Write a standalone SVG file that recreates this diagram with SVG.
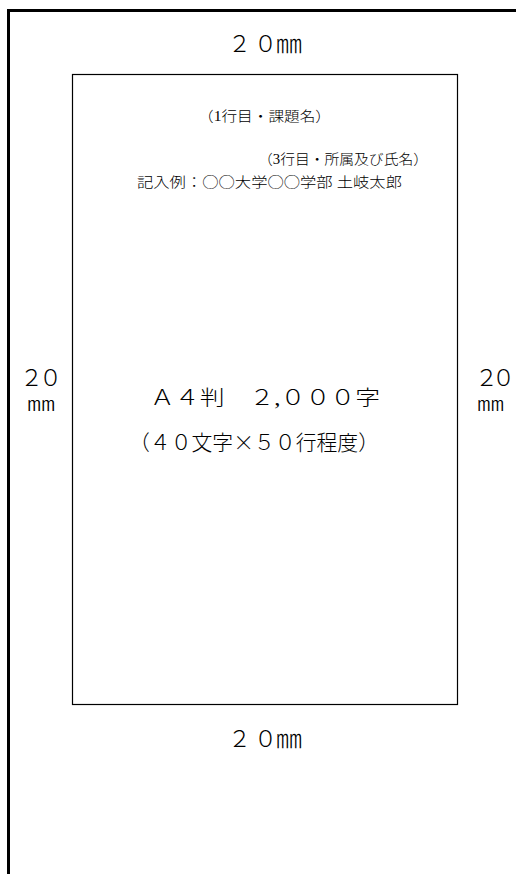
<svg xmlns="http://www.w3.org/2000/svg" width="516" height="874" viewBox="0 0 516 874">
  <style>
    text { font-family: "Liberation Serif", "Noto Sans CJK JP", serif; fill: #000; font-weight: 300; }
    .cjk { font-family: "Noto Sans CJK JP", sans-serif; }
    .lbl { font-size: 23px; }
    .mm { font-size: 26px; }
    .mms { font-size: 20px; }
    .big { font-size: 21px; }
    .small { font-size: 14px; }
    .frame { fill: none; stroke: #000; }
  </style>
  <rect width="516" height="874" fill="#fff"/>
  <g id="outer-frame">
    <path class="frame" d="M8.5,874 V10.5 H516" stroke-width="3"/>
  </g>
  <g id="page">
    <rect class="frame" x="72.5" y="74.5" width="385" height="630" stroke-width="1.2"/>
  </g>
  <g id="margin-top">
    <text class="lbl" y="52"><tspan x="228">２</tspan><tspan x="254">０</tspan><tspan x="276" dy="1" class="mm">㎜</tspan></text>
  </g>
  <g id="margin-bottom">
    <text class="lbl" y="747"><tspan x="228">２</tspan><tspan x="254">０</tspan><tspan x="276" dy="1" class="mm">㎜</tspan></text>
  </g>
  <g id="margin-left">
    <text class="lbl" x="41" y="386" text-anchor="middle" textLength="42">２０</text>
    <text class="mms" x="27" y="411" textLength="28" lengthAdjust="spacingAndGlyphs">㎜</text>
  </g>
  <g id="margin-right">
    <text class="lbl" x="495" y="386" text-anchor="middle" textLength="40">２０</text>
    <text class="mms" x="477" y="411" textLength="27" lengthAdjust="spacingAndGlyphs">㎜</text>
  </g>
  <g id="header-lines">
    <text class="small" x="198" y="121" textLength="133" lengthAdjust="spacingAndGlyphs">（1行目・課題名）</text>
    <text class="small" x="258" y="164" textLength="170" lengthAdjust="spacingAndGlyphs">（3行目・所属及び氏名）</text>
    <text class="small" x="137" y="187" textLength="265" lengthAdjust="spacingAndGlyphs">記入例：<tspan class="cjk">○○</tspan>大学<tspan class="cjk">○○</tspan>学部 土岐太郎</text>
  </g>
  <g id="body-text">
    <text class="big" x="150" y="405" textLength="230" lengthAdjust="spacingAndGlyphs">Ａ４判　２,０００字</text>
    <text class="big" x="129" y="450" textLength="250" lengthAdjust="spacingAndGlyphs">（４０文字<tspan class="cjk">×</tspan>５０行程度）</text>
  </g>
</svg>
